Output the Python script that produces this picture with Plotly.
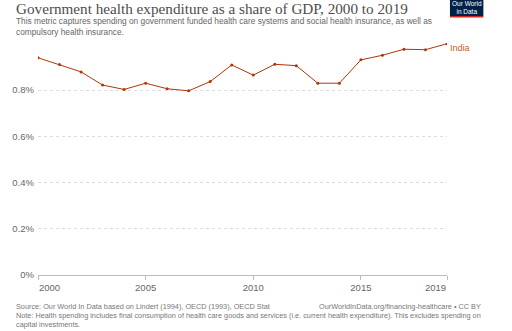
import plotly.graph_objects as go

# Government health expenditure, India (% of GDP)
years = list(range(2000, 2020))
india = [0.940, 0.911, 0.879, 0.822, 0.803, 0.830, 0.806, 0.797, 0.837, 0.909,
         0.865, 0.912, 0.906, 0.830, 0.830, 0.931, 0.951, 0.977, 0.975, 1.001]

y_ticks = [0, 0.2, 0.4, 0.6, 0.8]
y_tick_labels = ["0%", "0.2%", "0.4%", "0.6%", "0.8%"]
x_ticks = [2000, 2005, 2010, 2015, 2019]

W, H = 512, 331
L, R, T, B = 31, 65, 43, 56
PW, PH = W - L - R, H - T - B

LINE = "#b13507"
GRAY = "#666666"
FONT = "Arial, Liberation Sans"


def px(x):
    return (x - L) / PW


def py(y):
    return (H - B - y) / PH


fig = go.Figure()
fig.add_trace(go.Scatter(
    x=years, y=india, mode="lines+markers",
    line=dict(color=LINE, width=1),
    marker=dict(color=LINE, size=3),
    hoverinfo="skip", showlegend=False,
))

ann = []
# Series label at the line end
ann.append(dict(x=years[-1], y=india[-1], xref="x", yref="y", text="India",
                showarrow=False, xanchor="left", yanchor="middle", xshift=1, yshift=-4,
                font=dict(family=FONT, size=9, color="#b5632f")))
# First and last x tick labels sit inside the axis ends
ann.append(dict(x=x_ticks[0], y=0, xref="x", yref="y", text=str(x_ticks[0]),
                showarrow=False, xanchor="left", yanchor="top", yshift=-5, xshift=-1,
                font=dict(family=FONT, size=9.5, color=GRAY)))
ann.append(dict(x=x_ticks[-1], y=0, xref="x", yref="y", text=str(x_ticks[-1]),
                showarrow=False, xanchor="right", yanchor="top", yshift=-5, xshift=1,
                font=dict(family=FONT, size=9.5, color=GRAY)))
# Title and subtitle
ann.append(dict(x=px(7), y=py(8.5), xref="paper", yref="paper",
                text="Government health expenditure as a share of GDP, 2000 to 2019",
                showarrow=False, xanchor="left", yanchor="middle",
                font=dict(family="Liberation Serif, DejaVu Serif, serif", size=15.2, color="#4d4d4d")))
ann.append(dict(x=px(7), y=py(26.5), xref="paper", yref="paper",
                text="This metric captures spending on government funded health care systems and social health insurance, as well as<br>compulsory health insurance.",
                showarrow=False, xanchor="left", yanchor="middle", align="left",
                font=dict(family=FONT, size=8.3, color="#666666")))
# Footer
ann.append(dict(x=px(7), y=py(306), xref="paper", yref="paper",
                text="Source: Our World In Data based on Lindert (1994), OECD (1993), OECD Stat",
                showarrow=False, xanchor="left", yanchor="middle",
                font=dict(family=FONT, size=7.3, color="#777777")))
ann.append(dict(x=px(484), y=py(306), xref="paper", yref="paper",
                text="OurWorldInData.org/financing-healthcare • CC BY",
                showarrow=False, xanchor="right", yanchor="middle",
                font=dict(family=FONT, size=7.3, color="#777777")))
ann.append(dict(x=px(7), y=py(319.5), xref="paper", yref="paper",
                text="Note: Health spending includes final consumption of health care goods and services (i.e. current health expenditure). This excludes spending on<br>capital investments.",
                showarrow=False, xanchor="left", yanchor="middle", align="left",
                font=dict(family=FONT, size=7.3, color="#777777")))
# Logo
ann.append(dict(x=px(467), y=py(8), xref="paper", yref="paper",
                text="Our World<br>in Data", showarrow=False, xanchor="center", yanchor="middle",
                font=dict(family=FONT, size=6.5, color="white")))

shapes = [
    dict(type="rect", xref="paper", yref="paper", x0=px(450), x1=px(484), y0=py(0), y1=py(16),
         fillcolor="#002147", line=dict(width=0), layer="below"),
    dict(type="rect", xref="paper", yref="paper", x0=px(450), x1=px(484), y0=py(16), y1=py(17.5),
         fillcolor="#ce261e", line=dict(width=0), layer="below"),
]

fig.update_layout(
    width=W, height=H,
    margin=dict(l=L, r=R, t=T, b=B),
    paper_bgcolor="white", plot_bgcolor="white",
    annotations=ann, shapes=shapes,
    xaxis=dict(range=[2000, 2019], tickvals=x_ticks,
               ticktext=["", "2005", "2010", "2015", ""],
               showgrid=False, zeroline=False,
               showline=True, linecolor="#bbbbbb", linewidth=1,
               ticks="outside", ticklen=4, tickcolor="#bbbbbb",
               tickfont=dict(family=FONT, size=9.5, color=GRAY)),
    yaxis=dict(range=[0, 1.004], tickvals=y_ticks, ticktext=y_tick_labels,
               showgrid=True, gridcolor="#dddddd", griddash="dot", gridwidth=1,
               zeroline=False, showline=False, ticks="", ticklabelstandoff=3,
               tickfont=dict(family=FONT, size=9.5, color=GRAY)),
)

fig.write_html("out.html")
